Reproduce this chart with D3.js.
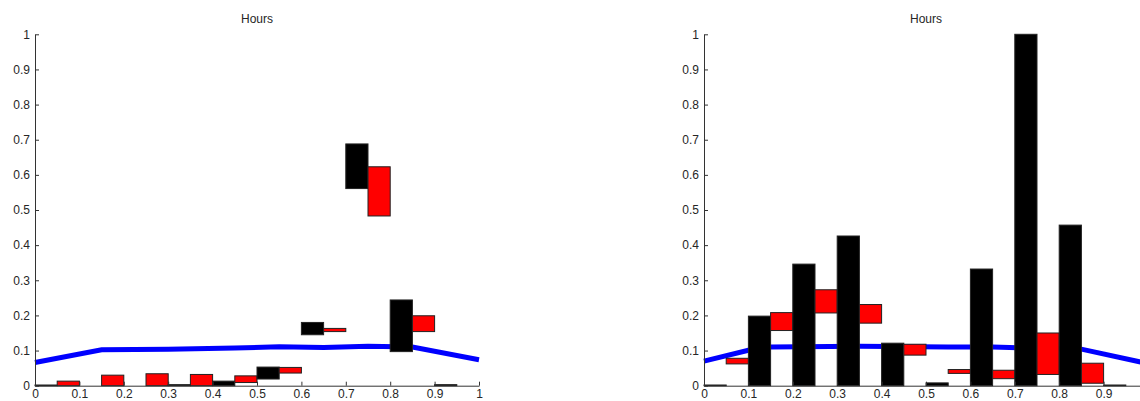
<!DOCTYPE html>
<html>
<head>
<meta charset="utf-8">
<script src="https://cdn.jsdelivr.net/npm/d3@7"></script>
<style>
    body { margin: 0; background: #fff; }
    svg text { font-family: "Liberation Sans", Arial, sans-serif; }
</style>
</head>
<body>
<svg id="chart" width="1140" height="401"></svg>
<script>
// bin edges of the histogram (bars alternate black / red)
const binEdges = [0, 0.05, 0.1, 0.15, 0.2, 0.25, 0.3, 0.35, 0.4, 0.45, 0.5,
    0.55, 0.6, 0.65, 0.7, 0.75, 0.8, 0.85, 0.9, 0.95, 1]
const barColors = ["black", "red"]

// left panel: bottom and top of each floating bar
const leftLow = [0, 0, 0, 0, 0, 0, 0, 0, 0, 0.009,
    0.019, 0.036, 0.145, 0.154, 0.561, 0.483, 0.097, 0.154, 0, 0]
const leftHigh = [0.002, 0.013, 0, 0.030, 0, 0.034, 0.003, 0.032, 0.013, 0.028,
    0.053, 0.052, 0.180, 0.163, 0.688, 0.623, 0.244, 0.199, 0.003, 0]
const leftLineX = [0, 0.15, 0.3, 0.45, 0.55, 0.65, 0.75, 0.85, 1]
const leftLineY = [0.066, 0.102, 0.104, 0.107, 0.111, 0.109, 0.112, 0.110, 0.074]

// right panel
const rightLow = [0, 0.062, 0, 0.157, 0, 0.207, 0, 0.178, 0, 0.087,
    0, 0.035, 0, 0.020, 0, 0.032, 0, 0.007, 0, 0]
const rightHigh = [0.002, 0.078, 0.198, 0.208, 0.346, 0.273, 0.426, 0.231, 0.121, 0.118,
    0.008, 0.046, 0.332, 0.044, 1.0, 0.150, 0.457, 0.064, 0.002, 0]
const rightLineX = [0, 0.1, 0.15, 0.35, 0.55, 0.65, 0.75, 0.85, 1]
const rightLineY = [0.070, 0.101, 0.110, 0.112, 0.110, 0.110, 0.106, 0.104, 0.063]

const leftXTicks = [0, 0.1, 0.2, 0.3, 0.4, 0.5, 0.6, 0.7, 0.8, 0.9, 1]
// the right panel runs past the window edge, so its "1" is not shown
const rightXTicks = [0, 0.1, 0.2, 0.3, 0.4, 0.5, 0.6, 0.7, 0.8, 0.9]
const yTicks = [0, 0.1, 0.2, 0.3, 0.4, 0.5, 0.6, 0.7, 0.8, 0.9, 1]
const titleText = "Hours"

const svg = d3.select("#chart")

function drawPanel({ left, low, high, lineX, lineY, xTicks }) {
    const width = 444
    const top = 34.3
    const bottom = 385.7
    const xScale = d3.scaleLinear().domain([0, 1]).range([left, left + width])
    const yScale = d3.scaleLinear().domain([0, 1]).range([bottom, top])
    const g = svg.append("g")

    // blue curve sits behind the bars
    const line = d3.line()
        .x((d, i) => xScale(lineX[i]))
        .y((d) => yScale(d))
    g.append("path")
        .datum(lineY)
        .attr("d", line)
        .attr("fill", "none")
        .attr("stroke", "#0000ff")
        .attr("stroke-width", 5)

    g.selectAll(".bar")
        .data(low)
        .enter()
        .append("rect")
        .attr("class", "bar")
        .attr("x", (d, i) => xScale(binEdges[i]))
        .attr("width", (d, i) => xScale(binEdges[i + 1]) - xScale(binEdges[i]))
        .attr("y", (d, i) => yScale(high[i]))
        .attr("height", (d, i) => yScale(d) - yScale(high[i]))
        .attr("fill", (d, i) => barColors[i % 2])
        .attr("stroke", "#222")
        .attr("stroke-width", 1)

    const xAxis = g.append("g")
        .attr("transform", `translate(0,${bottom})`)
        .call(d3.axisBottom(xScale).tickValues(xTicks).tickSizeInner(-4).tickSizeOuter(0)
            .tickFormat(d3.format("~g")))
    const yAxis = g.append("g")
        .attr("transform", `translate(${left},0)`)
        .call(d3.axisLeft(yScale).tickValues(yTicks).tickSizeInner(-4).tickSizeOuter(0)
            .tickFormat(d3.format("~g")))

    ;[xAxis, yAxis].forEach((ax) => {
        ax.select(".domain").attr("stroke", "#333")
        ax.selectAll(".tick line").attr("stroke", "#333")
        ax.selectAll(".tick text")
            .attr("fill", "#262626")
            .attr("font-size", 12)
            .attr("font-family", "Liberation Sans, Arial, sans-serif")
    })
    // x labels sit just above the bottom edge
    xAxis.selectAll(".tick text").attr("y", 3.5)
    yAxis.selectAll(".tick text").attr("x", -5)

    g.append("text")
        .text(titleText)
        .attr("x", left + width / 2)
        .attr("y", 23)
        .attr("text-anchor", "middle")
        .attr("font-size", 12)
        .attr("fill", "#262626")
}

drawPanel({ left: 35, low: leftLow, high: leftHigh, lineX: leftLineX, lineY: leftLineY, xTicks: leftXTicks })
drawPanel({ left: 704, low: rightLow, high: rightHigh, lineX: rightLineX, lineY: rightLineY, xTicks: rightXTicks })
</script>
</body>
</html>
